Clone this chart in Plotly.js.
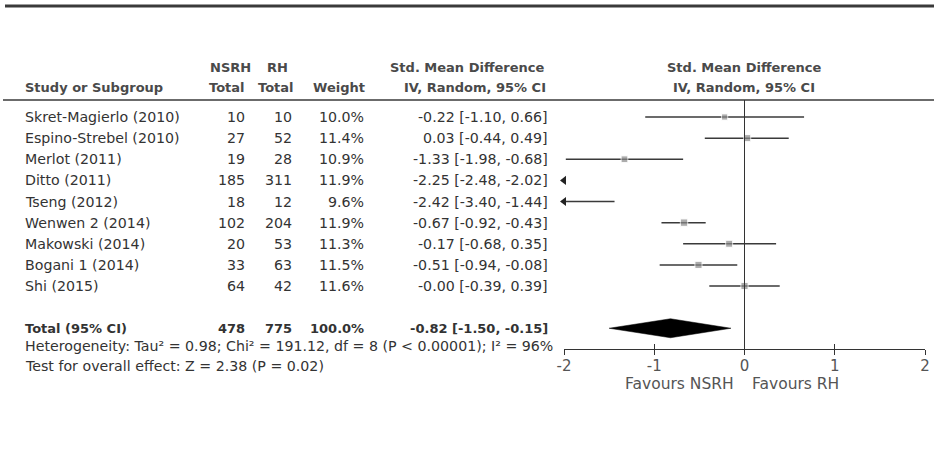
<!DOCTYPE html>
<html>
<head>
<meta charset="utf-8">
<script src="https://cdn.plot.ly/plotly-3.0.1.min.js"></script>
<style>html,body{margin:0;padding:0;background:#fff}#chart{width:934px;height:455px}</style>
</head>
<body>
<div id="chart"></div>
<script>
// ---------- data ----------
const studies = ["Skret-Magierlo (2010)","Espino-Strebel (2010)","Merlot (2011)","Ditto (2011)","Tseng (2012)","Wenwen 2 (2014)","Makowski (2014)","Bogani 1 (2014)","Shi (2015)"];
const nsrhTotal = [10,27,19,185,18,102,20,33,64];
const rhTotal   = [10,52,28,311,12,204,53,63,42];
const weights   = [10.0,11.4,10.9,11.9,9.6,11.9,11.3,11.5,11.6];
const smd       = [-0.22,0.03,-1.33,-2.25,-2.42,-0.67,-0.17,-0.51,-0.00];
const ciLow     = [-1.10,-0.44,-1.98,-2.48,-3.40,-0.92,-0.68,-0.94,-0.39];
const ciHigh    = [0.66,0.49,-0.68,-2.02,-1.44,-0.43,0.35,-0.08,0.39];
const totalLabel = "Total (95% CI)";
const totalN = [478, 775];
const totalWeight = 100.0;
const totalEst = [-0.82, -1.50, -0.15]; // estimate, low, high
const hetStats = {tau2: 0.98, chi2: 191.12, df: 8, p: "&lt; 0.00001", i2: 96};
const overall = {z: 2.38, p: 0.02};
const tickVals = [-2,-1,0,1,2];
const tickLabels = ["-2","-1","0","1","2"];
const favours = ["Favours NSRH","Favours RH"];

// ---------- geometry helpers ----------
const W = 934, H = 455;
const row0 = 117, rowStep = 21.125;
const px = v => v / W;
const py = v => 1 - v / H;
const FONT = "DejaVu Sans, Verdana, sans-serif";
const FS = 14.2;
const XMIN = -2, XMAX = 2;

const f2 = v => (Object.is(v, -0) ? "-0.00" : v.toFixed(2));
const ciText = (e, l, h) => `${f2(e)} [${f2(l)}, ${f2(h)}]`;

const rows = studies.map((_, i) => i);
const totalRow = studies.length + 1;

// ---------- traces ----------
const lx = [], ly = [];
const ax = [], ay = [];
rows.forEach(i => {
  const l = Math.max(ciLow[i], XMIN), h = Math.min(ciHigh[i], XMAX);
  if (h > l) { lx.push(l, h, null); ly.push(i, i, null); }
  if (ciLow[i] < XMIN) { ax.push(XMIN); ay.push(i); }
});
const ciTrace = {x: lx, y: ly, mode: "lines", type: "scatter", line: {color: "#3a3a3a", width: 1.5}, hoverinfo: "skip", showlegend: false};
const arrowTrace = {x: ax, y: ay, mode: "markers", type: "scatter", marker: {symbol: "triangle-left", size: 8, color: "#222"}, cliponaxis: false, hoverinfo: "skip", showlegend: false};
const sqTrace = {x: smd, y: rows, mode: "markers", type: "scatter", marker: {symbol: "square", size: weights.map(w => w * 0.62), color: "#8a8a8a"}, hoverinfo: "skip", showlegend: false};
const dh = 0.45;
const diamond = {
  x: [totalEst[1], totalEst[0], totalEst[2], totalEst[0], totalEst[1]],
  y: [totalRow, totalRow - dh, totalRow, totalRow + dh, totalRow],
  mode: "lines", type: "scatter", fill: "toself", fillcolor: "#000", line: {color: "#000", width: 0.5}, hoverinfo: "skip", showlegend: false
};
const dummy2 = {x: [0], y: [0], xaxis: "x2", mode: "markers", marker: {opacity: 0}, hoverinfo: "skip", showlegend: false};

// ---------- annotations ----------
const ann = [];
const baseFont = (c = "#333", s = FS) => ({family: FONT, size: s, color: c});
const txt = (text, xPix, y, anchor, opts = {}) => ann.push(Object.assign({
  text, x: px(xPix), xref: "paper", y, yref: "y", xanchor: anchor, yanchor: "middle",
  showarrow: false, font: baseFont()
}, opts));
const ptxt = (text, xPix, yPix, anchor, opts = {}) => ann.push(Object.assign({
  text, x: px(xPix), xref: "paper", y: py(yPix), yref: "paper", xanchor: anchor, yanchor: "middle",
  showarrow: false, font: baseFont()
}, opts));

const COLS = {study: 23, n1: 247, n2: 294, w: 366, ci: 550};
rows.forEach(i => {
  txt(studies[i], COLS.study, i, "left");
  txt(String(nsrhTotal[i]), COLS.n1, i, "right");
  txt(String(rhTotal[i]), COLS.n2, i, "right");
  txt(weights[i].toFixed(1) + "%", COLS.w, i, "right");
  txt(ciText(smd[i], ciLow[i], ciHigh[i]), COLS.ci, i, "right");
});
const bf = {font: baseFont("#333", 13)};
txt("<b>" + totalLabel + "</b>", COLS.study, totalRow, "left", bf);
txt("<b>" + totalN[0] + "</b>", COLS.n1, totalRow, "right", bf);
txt("<b>" + totalN[1] + "</b>", COLS.n2, totalRow, "right", bf);
txt("<b>" + totalWeight.toFixed(1) + "%</b>", COLS.w, totalRow, "right", bf);
txt("<b>" + ciText(totalEst[0], totalEst[1], totalEst[2]) + "</b>", COLS.ci, totalRow, "right", bf);

ptxt(`Heterogeneity: Tau² = ${hetStats.tau2.toFixed(2)}; Chi² = ${hetStats.chi2.toFixed(2)}, df = ${hetStats.df} (P ${hetStats.p}); I² = ${hetStats.i2}%`, COLS.study, 346, "left");
ptxt(`Test for overall effect: Z = ${overall.z.toFixed(2)} (P = ${overall.p.toFixed(2)})`, COLS.study, 366, "left");

// headers
const hfont = {font: baseFont("#4a4a4a", 13)};
ptxt("<b>Study or Subgroup</b>", COLS.study, 88, "left", hfont);
ptxt("<b>NSRH</b>", 253, 67, "right", hfont);
ptxt("<b>Total</b>", COLS.n1, 88, "right", hfont);
ptxt("<b>RH</b>", 290, 67, "right", hfont);
ptxt("<b>Total</b>", 296, 88, "right", hfont);
ptxt("<b>Weight</b>", 367, 88, "right", hfont);
ptxt("<b>Std. Mean Difference</b>", 546, 67, "right", hfont);
ptxt("<b>IV, Random, 95% CI</b>", 548, 88, "right", hfont);
ptxt("<b>Std. Mean Difference</b>", 744, 67, "center", hfont);
ptxt("<b>IV, Random, 95% CI</b>", 744, 88, "center", hfont);

// favours labels
ptxt(favours[0], 736, 384, "right", {font: baseFont("#555", 15.5)});
ptxt(favours[1], 750, 384, "left", {font: baseFont("#555", 15.5)});

// ---------- layout ----------
const axisY = 349;
const xdom = [px(564), px(925)];
const layout = {
  width: W, height: H,
  margin: {l: 0, r: 0, t: 0, b: 0},
  paper_bgcolor: "#fff", plot_bgcolor: "rgba(0,0,0,0)",
  xaxis: {
    domain: xdom, range: [XMIN, XMAX], anchor: "free", position: py(axisY),
    showline: true, linecolor: "#333", linewidth: 1,
    ticks: "outside", ticklen: 5, tickcolor: "#333", tickwidth: 1,
    tickvals: tickVals, ticktext: tickLabels, ticklabelstandoff: -2,
    tickfont: baseFont("#555", 15),
    showgrid: false, zeroline: false, fixedrange: true
  },
  xaxis2: {
    domain: xdom, range: [XMIN, XMAX], overlaying: "x", anchor: "free", position: py(axisY),
    showline: false, ticks: "inside", ticklen: 5, tickcolor: "#333", tickwidth: 1,
    tickvals: tickVals, showticklabels: false, showgrid: false, zeroline: false
  },
  yaxis: {
    domain: [0, 1], range: [(H - row0) / rowStep, -row0 / rowStep],
    visible: false, showgrid: false, zeroline: false, fixedrange: true
  },
  shapes: [
    {type: "line", xref: "paper", yref: "paper", x0: px(5), x1: 1, y0: py(6), y1: py(6), line: {color: "#3a3a3a", width: 3}},
    {type: "line", xref: "paper", yref: "paper", x0: px(3), x1: 1, y0: py(100), y1: py(100), line: {color: "#3a3a3a", width: 1.5}},
    {type: "line", xref: "x", yref: "paper", x0: 0, x1: 0, y0: py(100), y1: py(axisY), line: {color: "#333", width: 1}}
  ],
  annotations: ann,
  showlegend: false
};

Plotly.newPlot("chart", [ciTrace, sqTrace, arrowTrace, diamond, dummy2], layout, {staticPlot: true, displayModeBar: false});
</script>
</body>
</html>
